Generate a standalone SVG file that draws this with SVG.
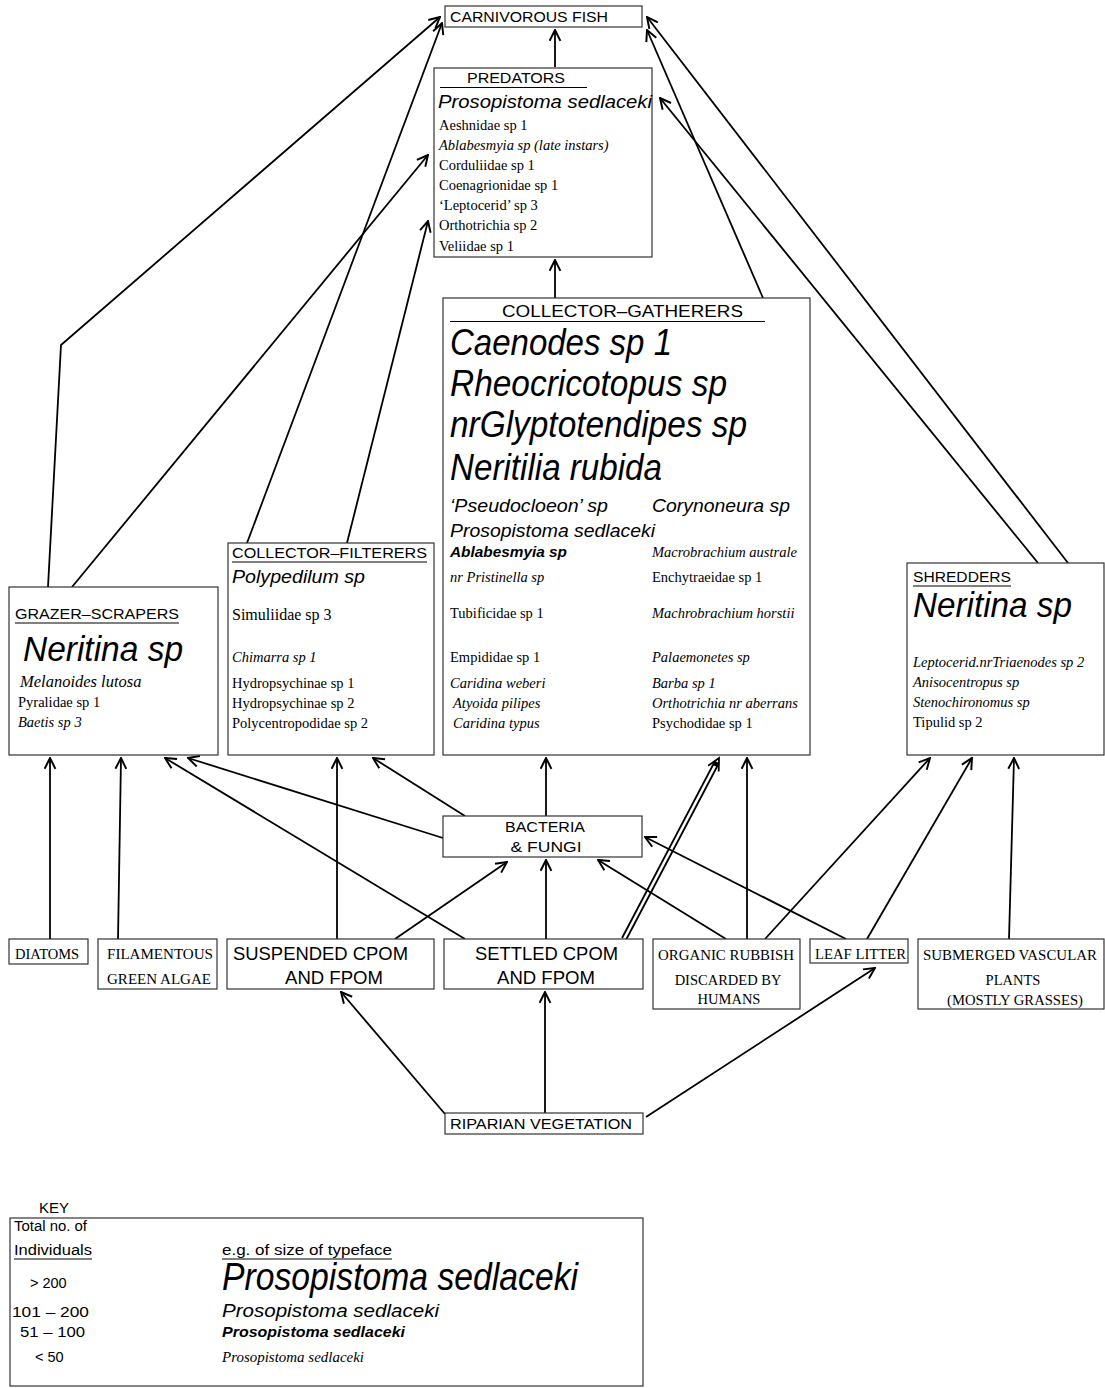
<svg xmlns="http://www.w3.org/2000/svg" width="1105" height="1388" viewBox="0 0 1105 1388">
<style>
.box{fill:#fff;stroke:#333;stroke-width:1.2}
.s{font-family:"Liberation Sans",Arial,sans-serif;fill:#000}
.r{font-family:"Liberation Serif","Times New Roman",serif;fill:#000}
.i{font-style:italic}
.b{font-weight:bold}
.u{stroke:#000;stroke-width:1.2}
.c{fill:none;stroke:#000;stroke-width:1.8;marker-end:url(#arr)}
.n{fill:none;stroke:#000;stroke-width:1.8}
</style>
<defs>
<marker id="arr" viewBox="0 0 12 12" refX="11" refY="6" markerWidth="13" markerHeight="13" markerUnits="userSpaceOnUse" orient="auto">
<path d="M1,1 L11,6 L1,11" fill="none" stroke="#000" stroke-width="1.8"/>
</marker>
</defs>
<rect width="1105" height="1388" fill="#fff"/>

<g id="connectors">
<polyline class="c" points="48,587 61,345 440,17"/>
<line class="c" x1="72" y1="587" x2="428" y2="155"/>
<line class="c" x1="247" y1="543" x2="442" y2="23"/>
<line class="c" x1="347" y1="543" x2="428" y2="221"/>
<line class="c" x1="555" y1="67" x2="555" y2="30"/>
<line class="c" x1="555" y1="298" x2="555" y2="260"/>
<line class="c" x1="763" y1="298" x2="647" y2="30"/>
<line class="c" x1="1038" y1="563" x2="660" y2="98"/>
<line class="c" x1="1068" y1="563" x2="647" y2="17"/>
<line class="c" x1="50" y1="939" x2="50" y2="758"/>
<line class="c" x1="118" y1="939" x2="121" y2="758"/>
<line class="c" x1="465" y1="939" x2="165" y2="758"/>
<line class="c" x1="443" y1="838" x2="188" y2="758"/>
<line class="c" x1="337" y1="939" x2="337" y2="758"/>
<line class="c" x1="465" y1="816" x2="373" y2="758"/>
<line class="c" x1="546" y1="816" x2="546" y2="758"/>
<line x1="624" y1="939" x2="717" y2="762" stroke="#000" stroke-width="6.2"/>
<line x1="624" y1="939" x2="714.9" y2="766" stroke="#fff" stroke-width="2.6"/>
<polyline class="n" points="718.7,771.4 719,758 708.1,765.8"/>
<line class="c" x1="747" y1="939" x2="747" y2="758"/>
<line class="c" x1="765" y1="939" x2="930" y2="758"/>
<line class="c" x1="867" y1="939" x2="972" y2="758"/>
<line class="c" x1="1009" y1="939" x2="1014" y2="758"/>
<line class="c" x1="395" y1="939" x2="507" y2="862"/>
<line class="c" x1="546" y1="939" x2="546" y2="860"/>
<line class="c" x1="726" y1="939" x2="598" y2="860"/>
<line class="c" x1="846" y1="939" x2="645" y2="837"/>
<line class="c" x1="445" y1="1114" x2="341" y2="992"/>
<line class="c" x1="545" y1="1114" x2="545" y2="992"/>
<line class="c" x1="646" y1="1117" x2="875" y2="968"/>
</g>

<g id="carnivorous-fish">
<rect class="box" x="445" y="6" width="197" height="21"/>
<text class="s" x="450" y="22" font-size="15" textLength="158" lengthAdjust="spacingAndGlyphs">CARNIVOROUS FISH</text>
</g>

<g id="predators">
<rect class="box" x="434" y="68" width="218" height="189"/>
<text class="s" x="467" y="83" font-size="15" textLength="98" lengthAdjust="spacingAndGlyphs">PREDATORS</text>
<line class="u" x1="440" y1="87.5" x2="587" y2="87.5"/>
<text class="s i" x="438" y="108" font-size="19" textLength="214" lengthAdjust="spacingAndGlyphs">Prosopistoma sedlaceki</text>
<g class="r" font-size="14.5">
<text x="439" y="130">Aeshnidae sp 1</text>
<text x="439" y="150" class="r i">Ablabesmyia sp (late instars)</text>
<text x="439" y="170">Corduliidae sp 1</text>
<text x="439" y="190">Coenagrionidae sp 1</text>
<text x="439" y="210">‘Leptocerid’ sp 3</text>
<text x="439" y="230">Orthotrichia sp 2</text>
<text x="439" y="251">Veliidae sp 1</text>
</g>
</g>

<g id="collector-gatherers">
<rect class="box" x="443" y="298" width="367" height="457"/>
<text class="s" x="502" y="317" font-size="16" textLength="241" lengthAdjust="spacingAndGlyphs">COLLECTOR–GATHERERS</text>
<line class="u" x1="450" y1="321.5" x2="765" y2="321.5"/>
<text class="s i" x="450" y="355" font-size="36" textLength="222" lengthAdjust="spacingAndGlyphs">Caenodes sp 1</text>
<text class="s i" x="450" y="396" font-size="36" textLength="277" lengthAdjust="spacingAndGlyphs">Rheocricotopus sp</text>
<text class="s i" x="450" y="437" font-size="36" textLength="297" lengthAdjust="spacingAndGlyphs">nrGlyptotendipes sp</text>
<text class="s i" x="450" y="480" font-size="36" textLength="212" lengthAdjust="spacingAndGlyphs">Neritilia rubida</text>
<text class="s i" x="450" y="512" font-size="19" textLength="158" lengthAdjust="spacingAndGlyphs">‘Pseudocloeon’ sp</text>
<text class="s i" x="652" y="512" font-size="19" textLength="138" lengthAdjust="spacingAndGlyphs">Corynoneura sp</text>
<text class="s i" x="450" y="537" font-size="19" textLength="205" lengthAdjust="spacingAndGlyphs">Prosopistoma sedlaceki</text>
<text class="s i b" x="450" y="557" font-size="15" textLength="117" lengthAdjust="spacingAndGlyphs">Ablabesmyia sp</text>
<g class="r" font-size="14.5">
<text x="652" y="557" class="r i">Macrobrachium australe</text>
<text x="450" y="582" class="r i">nr Pristinella sp</text>
<text x="652" y="582">Enchytraeidae sp 1</text>
<text x="450" y="618">Tubificidae sp 1</text>
<text x="652" y="618" class="r i">Machrobrachium horstii</text>
<text x="450" y="662">Empididae sp 1</text>
<text x="652" y="662" class="r i">Palaemonetes sp</text>
<text x="450" y="688" class="r i">Caridina weberi</text>
<text x="652" y="688" class="r i">Barba sp 1</text>
<text x="453" y="708" class="r i">Atyoida pilipes</text>
<text x="652" y="708" class="r i">Orthotrichia nr aberrans</text>
<text x="453" y="728" class="r i">Caridina typus</text>
<text x="652" y="728">Psychodidae sp 1</text>
</g>
</g>

<g id="grazer-scrapers">
<rect class="box" x="9" y="587" width="209" height="168"/>
<text class="s" x="15" y="619" font-size="15" textLength="164" lengthAdjust="spacingAndGlyphs">GRAZER–SCRAPERS</text>
<line class="u" x1="15" y1="623" x2="179" y2="623"/>
<text class="s i" x="23" y="661" font-size="35" textLength="160" lengthAdjust="spacingAndGlyphs">Neritina sp</text>
<text class="r i" x="20" y="687" font-size="16.5">Melanoides lutosa</text>
<text class="r" x="18" y="707" font-size="14.5">Pyralidae sp 1</text>
<text class="r i" x="18" y="727" font-size="14.5">Baetis sp 3</text>
</g>

<g id="collector-filterers">
<rect class="box" x="228" y="543" width="206" height="212"/>
<text class="s" x="232" y="558" font-size="15" textLength="195" lengthAdjust="spacingAndGlyphs">COLLECTOR–FILTERERS</text>
<line class="u" x1="232" y1="562" x2="427" y2="562"/>
<text class="s i" x="232" y="583" font-size="19" textLength="133" lengthAdjust="spacingAndGlyphs">Polypedilum sp</text>
<text class="r" x="232" y="620" font-size="16">Simuliidae sp 3</text>
<text class="r i" x="232" y="662" font-size="14.5">Chimarra sp 1</text>
<text class="r" x="232" y="688" font-size="14.5">Hydropsychinae sp 1</text>
<text class="r" x="232" y="708" font-size="14.5">Hydropsychinae sp 2</text>
<text class="r" x="232" y="728" font-size="14.5">Polycentropodidae sp 2</text>
</g>

<g id="shredders">
<rect class="box" x="907" y="563" width="197" height="192"/>
<text class="s" x="913" y="582" font-size="15" textLength="98" lengthAdjust="spacingAndGlyphs">SHREDDERS</text>
<line class="u" x1="913" y1="586" x2="1011" y2="586"/>
<text class="s i" x="913" y="617" font-size="35" textLength="159" lengthAdjust="spacingAndGlyphs">Neritina sp</text>
<text class="r i" x="913" y="667" font-size="14.5">Leptocerid.nrTriaenodes sp 2</text>
<text class="r i" x="913" y="687" font-size="14.5">Anisocentropus sp</text>
<text class="r i" x="913" y="707" font-size="14.5">Stenochironomus sp</text>
<text class="r" x="913" y="727" font-size="14.5">Tipulid sp 2</text>
</g>

<g id="bacteria-fungi">
<rect class="box" x="443" y="816" width="199" height="41"/>
<text class="s" x="545" y="832" font-size="14" text-anchor="middle" textLength="80" lengthAdjust="spacingAndGlyphs">BACTERIA</text>
<text class="s" x="546" y="852" font-size="14" text-anchor="middle" textLength="71" lengthAdjust="spacingAndGlyphs">&amp; FUNGI</text>
</g>

<g id="diatoms">
<rect class="box" x="9" y="939" width="79" height="25"/>
<text class="r" x="15" y="959" font-size="14.5">DIATOMS</text>
</g>

<g id="filamentous-green-algae">
<rect class="box" x="98" y="939" width="119" height="50"/>
<text class="r" x="107" y="959" font-size="14.5" textLength="106" lengthAdjust="spacingAndGlyphs">FILAMENTOUS</text>
<text class="r" x="107" y="984" font-size="14.5" textLength="104" lengthAdjust="spacingAndGlyphs">GREEN ALGAE</text>
</g>

<g id="suspended-cpom">
<rect class="box" x="227" y="939" width="207" height="50"/>
<text class="s" x="233" y="960" font-size="18" textLength="175" lengthAdjust="spacingAndGlyphs">SUSPENDED CPOM</text>
<text class="s" x="285" y="984" font-size="18" textLength="98" lengthAdjust="spacingAndGlyphs">AND FPOM</text>
</g>

<g id="settled-cpom">
<rect class="box" x="444" y="939" width="199" height="50"/>
<text class="s" x="475" y="960" font-size="18" textLength="143" lengthAdjust="spacingAndGlyphs">SETTLED CPOM</text>
<text class="s" x="497" y="984" font-size="18" textLength="98" lengthAdjust="spacingAndGlyphs">AND FPOM</text>
</g>

<g id="organic-rubbish">
<rect class="box" x="653" y="939" width="147" height="70"/>
<text class="r" x="726" y="960" font-size="14.5" text-anchor="middle" textLength="136" lengthAdjust="spacingAndGlyphs">ORGANIC RUBBISH</text>
<text class="r" x="728" y="985" font-size="14.5" text-anchor="middle">DISCARDED BY</text>
<text class="r" x="729" y="1004" font-size="14.5" text-anchor="middle">HUMANS</text>
</g>

<g id="leaf-litter">
<rect class="box" x="810" y="939" width="98" height="24"/>
<text class="r" x="815" y="959" font-size="14.5" textLength="91" lengthAdjust="spacingAndGlyphs">LEAF LITTER</text>
</g>

<g id="submerged-plants">
<rect class="box" x="918" y="939" width="186" height="70"/>
<text class="r" x="1010" y="960" font-size="14.5" text-anchor="middle" textLength="174" lengthAdjust="spacingAndGlyphs">SUBMERGED VASCULAR</text>
<text class="r" x="1013" y="985" font-size="14.5" text-anchor="middle">PLANTS</text>
<text class="r" x="1015" y="1005" font-size="14.5" text-anchor="middle" textLength="136" lengthAdjust="spacingAndGlyphs">(MOSTLY GRASSES)</text>
</g>

<g id="riparian-vegetation">
<rect class="box" x="445" y="1113" width="198" height="21"/>
<text class="s" x="450" y="1129" font-size="15" textLength="182" lengthAdjust="spacingAndGlyphs">RIPARIAN VEGETATION</text>
</g>

<g id="key">
<text class="s" x="39" y="1213" font-size="15">KEY</text>
<rect class="box" x="10" y="1218" width="633" height="168"/>
<text class="s" x="14" y="1231" font-size="14" textLength="73" lengthAdjust="spacingAndGlyphs">Total no. of</text>
<text class="s" x="14" y="1255" font-size="14" textLength="78" lengthAdjust="spacingAndGlyphs">Individuals</text>
<line class="u" x1="14" y1="1259" x2="92" y2="1259"/>
<text class="s" x="222" y="1255" font-size="14" textLength="170" lengthAdjust="spacingAndGlyphs">e.g. of size of typeface</text>
<line class="u" x1="222" y1="1259" x2="392" y2="1259"/>
<text class="s" x="30" y="1288" font-size="14.5">&gt; 200</text>
<text class="s" x="12" y="1317" font-size="14" textLength="77" lengthAdjust="spacingAndGlyphs">101 – 200</text>
<text class="s" x="20" y="1337" font-size="14" textLength="65" lengthAdjust="spacingAndGlyphs">51 – 100</text>
<text class="s" x="35" y="1362" font-size="14.5">&lt; 50</text>
<text class="s i" x="222" y="1290" font-size="38" textLength="356" lengthAdjust="spacingAndGlyphs">Prosopistoma sedlaceki</text>
<text class="s i" x="222" y="1317" font-size="19" textLength="217" lengthAdjust="spacingAndGlyphs">Prosopistoma sedlaceki</text>
<text class="s i b" x="222" y="1337" font-size="15" textLength="183" lengthAdjust="spacingAndGlyphs">Prosopistoma sedlaceki</text>
<text class="r i" x="222" y="1362" font-size="14" textLength="142" lengthAdjust="spacingAndGlyphs">Prosopistoma sedlaceki</text>
</g>
</svg>
